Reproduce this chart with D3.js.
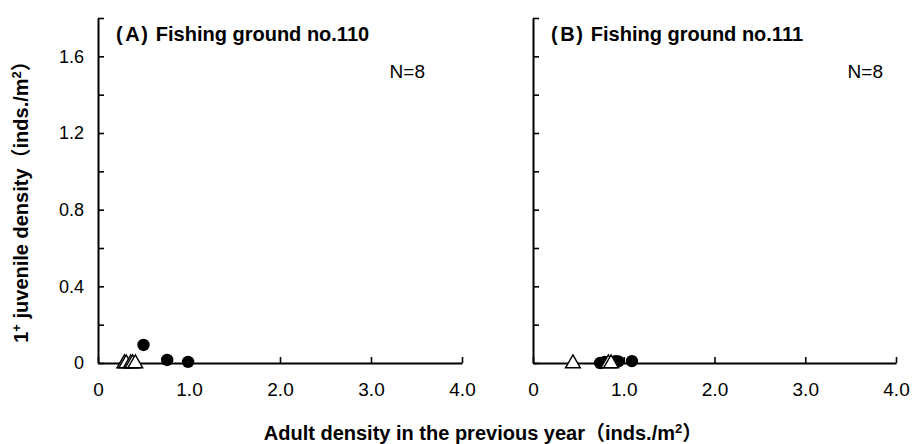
<!DOCTYPE html>
<html><head><meta charset="utf-8">
<script src="https://cdn.jsdelivr.net/npm/d3@7/dist/d3.min.js"></script>
<style>
html,body{margin:0;padding:0;background:#fff;}
svg{display:block;}
</style></head>
<body>
<svg id="chart" width="915" height="444"></svg>
<script>
// ---- data ----
const xTickValues = [0, 1, 2, 3, 4];
const xTickLabels = ["0", "1.0", "2.0", "3.0", "4.0"];
const yTickValues = [0, 0.2, 0.4, 0.6, 0.8, 1.0, 1.2, 1.4, 1.6, 1.8];
const yTickLabels = ["0", "", "0.4", "", "0.8", "", "1.2", "", "1.6", ""];

const panelTitles = ["Fishing ground no.110", "Fishing ground no.111"];
const panelLetters = ["A", "B"];
const panelN = ["N=8", "N=8"];

// Panel A (no.110)
const aCircleX = [0.50, 0.76, 0.99];
const aCircleY = [0.094, 0.016, 0.006];
const aTriX = [0.29, 0.31, 0.36, 0.38, 0.41];
const aTriY = [0, 0, 0, 0, 0];

// Panel B (no.111)
const bCircleX = [0.74, 0.79, 0.91, 0.94, 1.09];
const bCircleY = [0.0, 0.006, 0.01, 0.008, 0.01];
const bTriX = [0.44, 0.83, 0.86];
const bTriY = [0, 0, 0];

const panels = [
  {cx: aCircleX, cy: aCircleY, tx: aTriX, ty: aTriY, x0: 98, x1: 462, nRight: 425, yLabels: true},
  {cx: bCircleX, cy: bCircleY, tx: bTriX, ty: bTriY, x0: 533, x1: 896, nRight: 883, yLabels: false}
];

const svg = d3.select("#chart");
const plotTop = 18, plotBottom = 363;
const y = d3.scaleLinear().domain([0, 1.8]).range([plotBottom, plotTop]);

panels.forEach((p, i) => {
  const x = d3.scaleLinear().domain([0, 4]).range([p.x0, p.x1]);
  const g = svg.append("g");

  // x axis
  const xa = g.append("g").attr("transform", `translate(0,${plotBottom})`)
    .call(d3.axisBottom(x).tickValues(xTickValues)
      .tickFormat((d, k) => xTickLabels[k])
      .tickSizeInner(-6).tickSizeOuter(0).tickPadding(20));
  xa.selectAll("text").style("font-family", "'Liberation Sans Narrow','Liberation Sans',Arial,sans-serif")
    .style("font-size", "19px").attr("fill", "#000");

  // y axis
  const ya = g.append("g").attr("transform", `translate(${p.x0},0)`)
    .call(d3.axisLeft(y).tickValues(yTickValues)
      .tickFormat((d, k) => p.yLabels ? yTickLabels[k] : "")
      .tickSizeInner(-6).tickSizeOuter(0).tickPadding(14));
  ya.selectAll("text").style("font-family", "'Liberation Sans',Arial,sans-serif")
    .style("font-size", "18px").attr("fill", "#000");

  [xa, ya].forEach(a => {
    a.select(".domain").attr("stroke", "#000").attr("stroke-width", 2);
    a.selectAll(".tick line").attr("stroke", "#000").attr("stroke-width", 1.6);
  });

  // circles
  g.selectAll("circle.pt").data(p.cx.map((v, k) => [v, p.cy[k]]))
    .enter().append("circle").attr("class", "pt")
    .attr("cx", d => x(d[0])).attr("cy", d => y(d[1])).attr("r", 6.2)
    .attr("fill", "#000");

  // triangles
  const tri = d3.symbol().type(d3.symbolTriangle).size(95);
  g.selectAll("path.tri").data(p.tx.map((v, k) => [v, p.ty[k]]))
    .enter().append("path").attr("class", "tri")
    .attr("d", tri)
    .attr("transform", d => `translate(${x(d[0])},${y(d[1]) + 0.5})`)
    .attr("fill", "#fff").attr("stroke", "#000").attr("stroke-width", 1.4);

  // title
  const t = svg.append("text").attr("x", p.x0 + 18).attr("y", 41)
    .style("font-family", "'Liberation Sans',Arial,sans-serif")
    .style("font-weight", "bold").style("font-size", "20px");
  t.append("tspan").text("(");
  t.append("tspan").attr("dx", 2.5).text(panelLetters[i]);
  t.append("tspan").attr("dx", 1.5).text(")");
  t.append("tspan").attr("dx", 8).text(panelTitles[i]);

  // N label
  svg.append("text").attr("x", p.nRight).attr("y", 78).attr("text-anchor", "end")
    .style("font-family", "'Liberation Sans',Arial,sans-serif").style("font-size", "19px")
    .text(panelN[i]);
});

// axis titles
const lab = "font-family:'Liberation Sans',Arial,'Noto Sans CJK JP',sans-serif;font-weight:bold;font-size:20px";
const xt = svg.append("text").attr("x", 483).attr("y", 440).attr("text-anchor", "middle").attr("style", lab);
xt.append("tspan").text("Adult density in the previous year（inds./m");
xt.append("tspan").attr("dy", -7).style("font-size", "13px").text("2");
xt.append("tspan").attr("dy", 7).text("）");

const yt = svg.append("text").attr("transform", "translate(28,197) rotate(-90)")
  .attr("text-anchor", "middle").attr("style", lab);
yt.append("tspan").text("1");
yt.append("tspan").attr("dy", -7).style("font-size", "13px").text("+");
yt.append("tspan").attr("dy", 7).text(" juvenile density（inds./m");
yt.append("tspan").attr("dy", -7).style("font-size", "13px").text("2");
yt.append("tspan").attr("dy", 7).text("）");
</script>
</body></html>
